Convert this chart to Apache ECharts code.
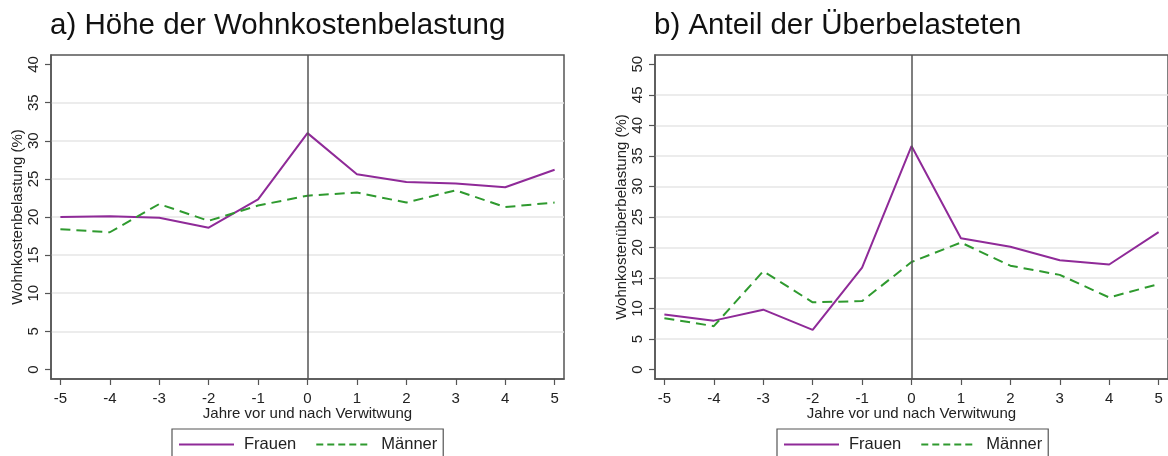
<!DOCTYPE html>
<html>
<head>
<meta charset="utf-8">
<script src="https://cdn.jsdelivr.net/npm/echarts@6/dist/echarts.min.js"></script>
<style>
html,body{margin:0;padding:0;background:#fff;}
#chart{width:1168px;height:456px;}
</style>
</head>
<body>
<div id="chart"></div>
<script>
// Data
const years = [-5, -4, -3, -2, -1, 0, 1, 2, 3, 4, 5];
const frauenA = [20.0, 20.1, 19.9, 18.6, 22.3, 31.0, 25.6, 24.6, 24.4, 23.9, 26.2];
const maennerA = [18.4, 18.0, 21.7, 19.5, 21.5, 22.8, 23.2, 21.9, 23.5, 21.3, 21.9];
const frauenB = [9.0, 8.0, 9.8, 6.5, 16.7, 36.6, 21.5, 20.1, 17.9, 17.2, 22.5];
const maennerB = [8.4, 7.1, 16.1, 11.0, 11.2, 17.6, 20.8, 17.0, 15.5, 11.8, 14.0];
const yTicksA = [0, 5, 10, 15, 20, 25, 30, 35, 40];
const yTicksB = [0, 5, 10, 15, 20, 25, 30, 35, 40, 45, 50];
const titles = ['a) Höhe der Wohnkostenbelastung', 'b) Anteil der Überbelasteten'];
const yNames = ['Wohnkostenbelastung (%)', 'Wohnkostenüberbelastung (%)'];
const xName = 'Jahre vor und nach Verwitwung';
const seriesNames = ['Frauen', 'Männer'];

const FONT = 'Liberation Sans, Arial, sans-serif';
const PURPLE = '#8f2a98';
const GREEN = '#2f9a2f';
const AXIS = '#555';
const GRIDC = '#e6e6e6';

function pairs(vals) { return years.map((y, i) => [y, vals[i]]); }
function gridColors(n) {
  const c = [];
  for (let i = 0; i < n; i++) c.push(i === 0 || i === n - 1 ? 'rgba(0,0,0,0)' : GRIDC);
  return c;
}

function xAxisDef(gi) {
  return {
    type: 'value', gridIndex: gi, min: -5.19, max: 5.19,
    name: xName, nameLocation: 'middle', nameGap: 27, nameMoveOverlap: false,
    nameTextStyle: { fontFamily: FONT, fontSize: 15, color: '#222' },
    axisLine: { show: true, onZero: false, lineStyle: { color: AXIS, width: 1.5 } },
    axisTick: { show: true, length: 6, customValues: years, lineStyle: { color: AXIS, width: 1.2 } },
    axisLabel: { customValues: years, margin: 12, fontFamily: FONT, fontSize: 15, color: '#222' },
    splitLine: { show: false }
  };
}
function yAxisDef(gi, ticks, min, max) {
  return {
    type: 'value', gridIndex: gi, min: min, max: max,
    name: yNames[gi], nameLocation: 'middle', nameGap: 26,
    nameTextStyle: { fontFamily: FONT, fontSize: 15, color: '#222' },
    axisLine: { show: true, onZero: false, lineStyle: { color: AXIS, width: 1.5 } },
    axisTick: { show: true, length: 6, customValues: ticks, lineStyle: { color: AXIS, width: 1.2 } },
    axisLabel: { customValues: ticks, rotate: 90, margin: 10, fontFamily: FONT, fontSize: 15, color: '#222' },
    splitLine: { show: true, lineStyle: { color: gridColors(ticks.length), width: 1.5 } }
  };
}
function lineSeries(name, data, gi, color, dashed, withMark) {
  const s = {
    name: name, type: 'line', xAxisIndex: gi, yAxisIndex: gi,
    data: pairs(data), symbol: 'none', showSymbol: false,
    lineStyle: { color: color, width: 2, type: dashed ? [10, 6] : 'solid' },
    itemStyle: { color: color }, z: dashed ? 4 : 3, animation: false
  };
  if (withMark) {
    s.markLine = {
      silent: true, symbol: 'none', animation: false,
      label: { show: false },
      lineStyle: { color: AXIS, width: 1.5, type: 'solid' },
      data: [{ xAxis: 0 }]
    };
  }
  return s;
}
const hiddenDot = { color: 'rgba(0,0,0,0)', borderColor: 'rgba(0,0,0,0)', borderWidth: 0 };
function legendDef(left) {
  return {
    left: left, top: 429, orient: 'horizontal',
    borderColor: AXIS, borderWidth: 1.2, padding: [7, 6, 12, 6],
    itemWidth: 55, itemHeight: 14, itemGap: 19,
    textStyle: { fontFamily: FONT, fontSize: 16.5, color: '#222', padding: [0, 0, 0, 5] },
    data: [
      { name: seriesNames[0], itemStyle: hiddenDot },
      { name: seriesNames[1], itemStyle: hiddenDot, lineStyle: { type: [7, 4] } }
    ]
  };
}

const chart = echarts.init(document.getElementById('chart'), null, { renderer: 'canvas' });
chart.setOption({
  animation: false,
  backgroundColor: '#fff',
  title: [
    { text: titles[0], left: 50, top: 11, padding: 0, textStyle: { fontFamily: FONT, fontSize: 29.5, fontWeight: 'normal', color: '#111' } },
    { text: titles[1], left: 654, top: 11, padding: 0, textStyle: { fontFamily: FONT, fontSize: 29.5, fontWeight: 'normal', color: '#111' } }
  ],
  legend: [legendDef(172), legendDef(777)],
  grid: [
    { left: 51, top: 55, width: 513, height: 324, show: true, borderColor: AXIS, borderWidth: 1.5, containLabel: false },
    { left: 655, top: 55, width: 514, height: 324, show: true, borderColor: AXIS, borderWidth: 1.5, containLabel: false }
  ],
  xAxis: [xAxisDef(0), xAxisDef(1)],
  yAxis: [yAxisDef(0, yTicksA, -1.25, 41.25), yAxisDef(1, yTicksB, -1.56, 51.52)],
  series: [
    lineSeries(seriesNames[0], frauenA, 0, PURPLE, false, true),
    lineSeries(seriesNames[1], maennerA, 0, GREEN, true, false),
    lineSeries(seriesNames[0], frauenB, 1, PURPLE, false, true),
    lineSeries(seriesNames[1], maennerB, 1, GREEN, true, false)
  ]
});
</script>
</body>
</html>
